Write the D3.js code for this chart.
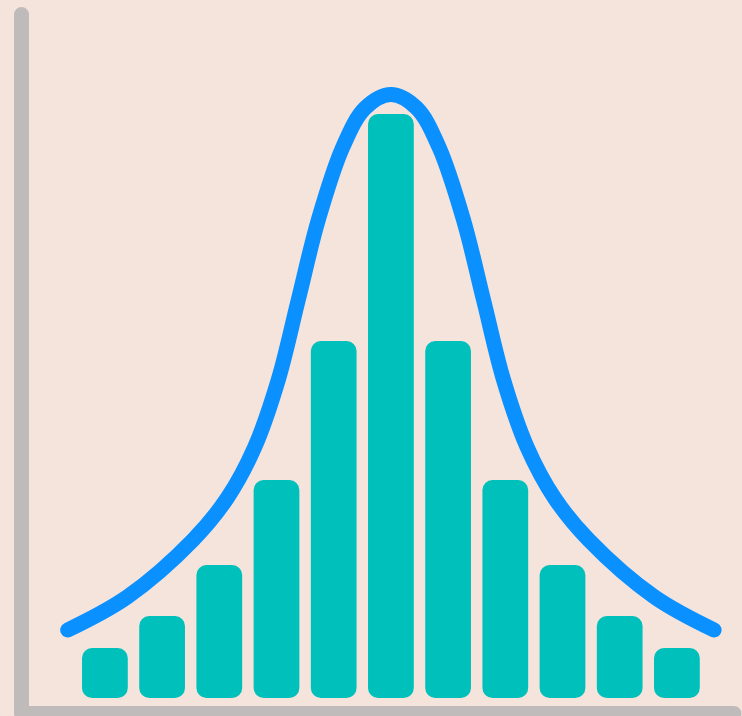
<!DOCTYPE html>
<html>
<head>
<meta charset="utf-8">
<script src="https://cdn.jsdelivr.net/npm/d3@7"></script>
<style>
  html, body { margin: 0; padding: 0; background: #f5e4db; overflow: hidden; }
  svg { display: block; }
</style>
</head>
<body>
<div id="chart"></div>
<script>
// bar categories (bin index) and heights
var bins = [0, 1, 2, 3, 4, 5, 6, 7, 8, 9, 10];
var barValues = [50, 82, 133, 218, 357, 584, 357, 218, 133, 82, 50];

// bell curve (x in bin units, y in value units)
var curveX = [-0.65, 0.39, 1.54, 2.14, 2.62, 3.03, 3.38, 3.73, 4.16, 4.55, 5,
              5.45, 5.84, 6.27, 6.62, 6.97, 7.38, 7.86, 8.46, 9.61, 10.65];
var curveY = [68, 101, 158, 200, 251, 318, 398, 478, 551, 590, 603.5,
              590, 551, 478, 398, 318, 251, 200, 158, 101, 68];

var width = 742, height = 716;
var margin = { top: 78, bottom: 18, left: 76.3, right: 36.5 };

var svg = d3
  .select("#chart")
  .append("svg")
  .attr("width", width)
  .attr("height", height);

svg.append("rect")
  .attr("width", width)
  .attr("height", height)
  .attr("fill", "#f5e4db");

var x = d3.scaleBand()
  .domain(bins)
  .range([margin.left, width - margin.right])
  .paddingInner(0.2)
  .paddingOuter(0.1);

var bw = x.bandwidth();
var xLin = d3.scaleLinear()
  .domain([0, 10])
  .range([x(0) + bw / 2, x(10) + bw / 2]);

var y = d3.scaleLinear()
  .domain([0, 620])
  .range([height - margin.bottom, margin.top]);

// axis lines (no ticks)
svg.append("path")
  .attr("d", "M21.5,14.5V713.5H734")
  .attr("fill", "none")
  .attr("stroke", "#bfbbba")
  .attr("stroke-width", 15)
  .attr("stroke-linecap", "round")
  .attr("stroke-linejoin", "round");

// bars
svg.selectAll(".bar")
  .data(barValues)
  .enter()
  .append("rect")
  .attr("class", "bar")
  .attr("x", function (d, i) { return x(bins[i]); })
  .attr("y", function (d) { return y(d); })
  .attr("width", bw)
  .attr("height", function (d) { return y(0) - y(d); })
  .attr("rx", 10)
  .attr("ry", 10)
  .attr("fill", "#00c0bb");

// curve
var pts = curveX.map(function (d, i) { return [d, curveY[i]]; });
var line = d3.line()
  .x(function (d) { return xLin(d[0]); })
  .y(function (d) { return y(d[1]); })
  .curve(d3.curveCatmullRom.alpha(0.5));

svg.append("path")
  .datum(pts)
  .attr("d", line)
  .attr("fill", "none")
  .attr("stroke", "#0a90ff")
  .attr("stroke-width", 15)
  .attr("stroke-linecap", "round")
  .attr("stroke-linejoin", "round");
</script>
</body>
</html>
